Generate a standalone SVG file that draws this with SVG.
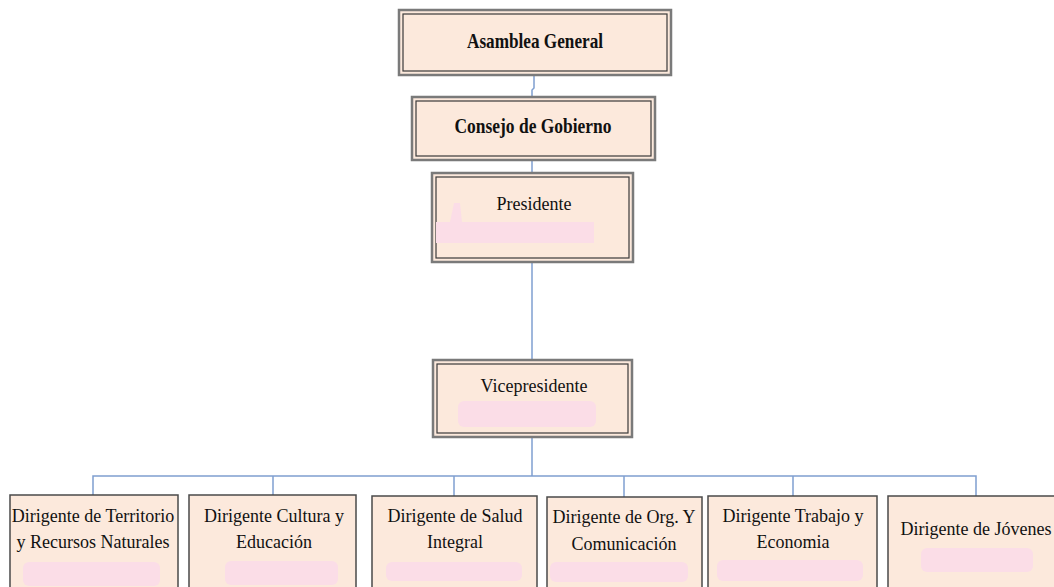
<svg xmlns="http://www.w3.org/2000/svg" width="1054" height="587" viewBox="0 0 1054 587">
<style>
.box{fill:#FCE9DC}
.o{fill:none;stroke:#7a7a7a;stroke-width:2.5}
.i{fill:none;stroke:#3a3a3a;stroke-width:1.2}
.b{fill:#FCE9DC;stroke:#4a4a4a;stroke-width:1.5}
.t{font-family:"Liberation Serif","Times New Roman",serif;font-size:18px;fill:#111;text-anchor:middle}
.tb{font-family:"Liberation Serif","Times New Roman",serif;font-size:21px;font-weight:bold;fill:#111;text-anchor:middle}
.pk{fill:#FBDDE7}
.c{fill:none;stroke:#7F9FD0;stroke-width:1.5}
</style>
<rect width="1054" height="587" fill="#ffffff"/>
<g id="connectors">
<path class="c" d="M534 75 V88 L532 90 V97"/>
<path class="c" d="M532 160 V173"/>
<path class="c" d="M532 262 V360"/>
<path class="c" d="M532 437 V476"/>
<path class="c" d="M93 495 V476 H976 V496"/>
<path class="c" d="M273 476 V495"/>
<path class="c" d="M454 476 V496"/>
<path class="c" d="M624 476 V497"/>
<path class="c" d="M793 476 V496"/>
</g>
<g id="asamblea">
<rect class="box" x="399" y="10" width="272" height="65"/>
<rect class="o" x="399" y="10" width="272" height="65"/>
<rect class="i" x="403" y="14" width="264" height="57"/>
<text class="tb" x="535" y="48" textLength="136" lengthAdjust="spacingAndGlyphs">Asamblea General</text>
</g>
<g id="consejo">
<rect class="box" x="412" y="97" width="243" height="63"/>
<rect class="o" x="412" y="97" width="243" height="63"/>
<rect class="i" x="416" y="101" width="235" height="55"/>
<text class="tb" x="533" y="133" textLength="157" lengthAdjust="spacingAndGlyphs">Consejo de Gobierno</text>
</g>
<g id="presidente">
<rect class="box" x="432" y="173" width="201" height="89"/>
<rect class="o" x="432" y="173" width="201" height="89"/>
<rect class="i" x="436" y="177" width="193" height="81"/>
<text class="t" x="534" y="210">Presidente</text>
<path class="pk" d="M436 222 L450 222 L454 203 L460 203 L462 222 L594 222 L594 243 L436 243 Z"/>
</g>
<g id="vicepresidente">
<rect class="box" x="433" y="360" width="199" height="77"/>
<rect class="o" x="433" y="360" width="199" height="77"/>
<rect class="i" x="437" y="364" width="191" height="69"/>
<text class="t" x="534" y="392">Vicepresidente</text>
<rect class="pk" x="458" y="401" width="138" height="26" rx="6"/>
</g>
<g id="territorio">
<rect class="b" x="10" y="495" width="168" height="100"/>
<text class="t" x="93" y="522">Dirigente de Territorio</text>
<text class="t" x="93" y="548">y Recursos Naturales</text>
<rect class="pk" x="23" y="562" width="137" height="24" rx="6"/>
</g>
<g id="cultura">
<rect class="b" x="189" y="495" width="167" height="100"/>
<text class="t" x="274" y="522">Dirigente Cultura y</text>
<text class="t" x="274" y="548">Educación</text>
<rect class="pk" x="225" y="561" width="113" height="24" rx="6"/>
</g>
<g id="salud">
<rect class="b" x="372" y="496" width="165" height="100"/>
<text class="t" x="455" y="522">Dirigente de Salud</text>
<text class="t" x="455" y="548">Integral</text>
<rect class="pk" x="386" y="562" width="136" height="19" rx="6"/>
</g>
<g id="org">
<rect class="b" x="547" y="497" width="155" height="100"/>
<text class="t" x="624" y="523">Dirigente de Org. Y</text>
<text class="t" x="624" y="550">Comunicación</text>
<rect class="pk" x="550" y="562" width="138" height="20" rx="6"/>
</g>
<g id="trabajo">
<rect class="b" x="708" y="496" width="169" height="100"/>
<text class="t" x="793" y="522">Dirigente Trabajo y</text>
<text class="t" x="793" y="548">Economia</text>
<rect class="pk" x="717" y="560" width="146" height="21" rx="6"/>
</g>
<g id="jovenes">
<rect class="b" x="888" y="496" width="172" height="100"/>
<text class="t" x="976" y="535">Dirigente de Jóvenes</text>
<rect class="pk" x="921" y="548" width="112" height="24" rx="6"/>
</g>
</svg>
